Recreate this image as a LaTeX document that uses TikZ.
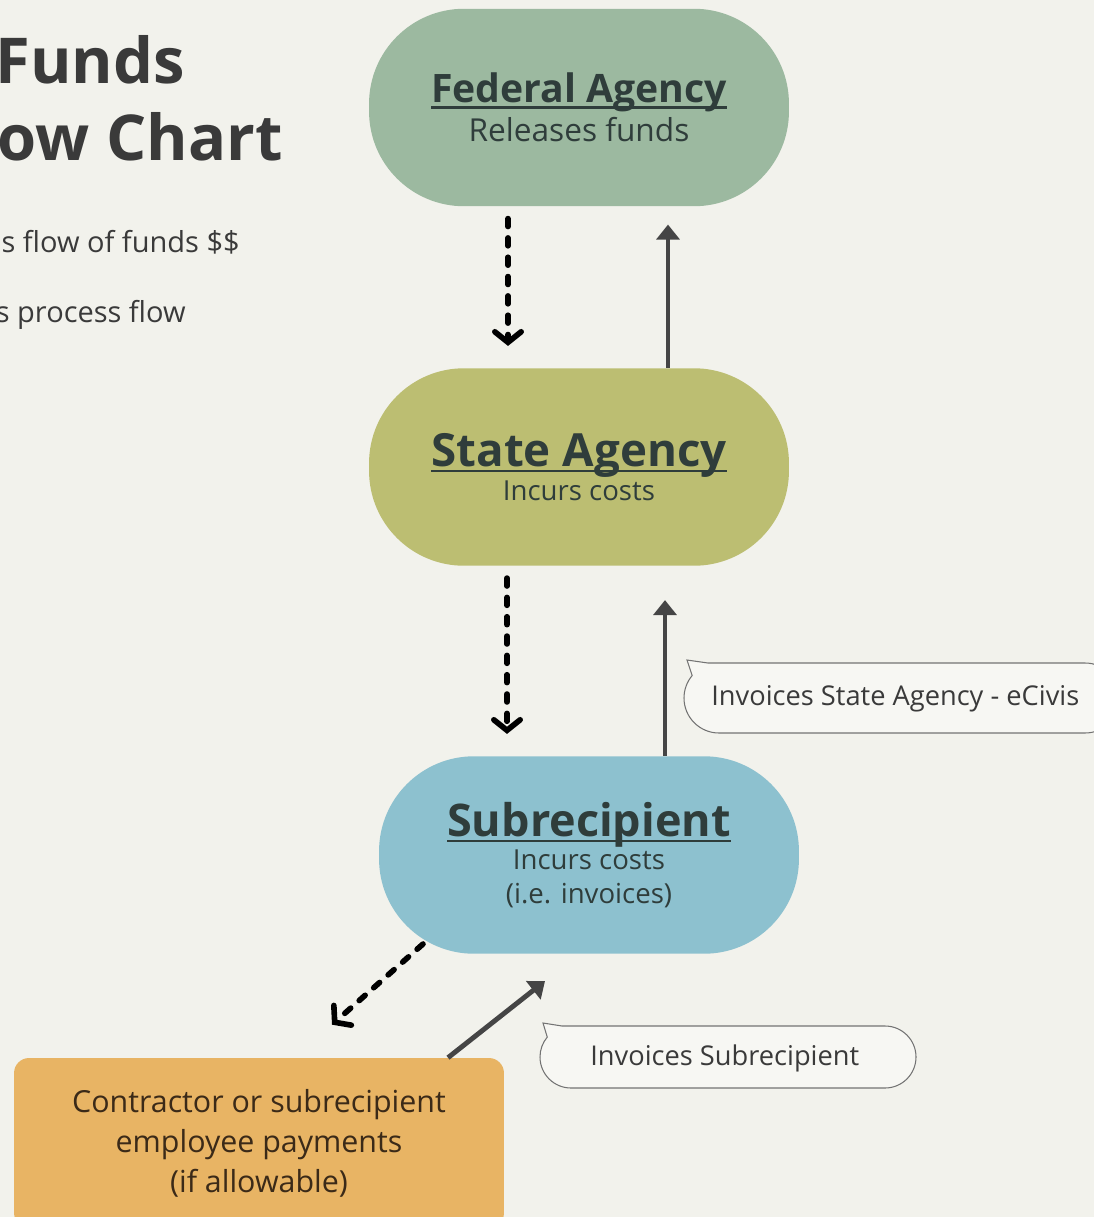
\documentclass[tikz,border=0pt]{standalone}
\usepackage{fontspec}
\setmainfont{Open Sans}
\usetikzlibrary{positioning, calc, arrows.meta}

\definecolor{paper}{HTML}{F2F2EC}
\definecolor{fedgreen}{HTML}{9CB9A0}
\definecolor{stateolive}{HTML}{BCBE72}
\definecolor{subblue}{HTML}{8DC1CF}
\definecolor{payorange}{HTML}{E8B464}
\definecolor{inkgrey}{HTML}{3A3A3A}
\definecolor{nodeink}{HTML}{2F3D3B}
\definecolor{payink}{HTML}{3B2A18}
\definecolor{arrowgrey}{HTML}{454545}
\definecolor{bubblefill}{HTML}{F7F7F3}

% underline that runs through the descenders
\newcommand{\agencyline}[1]{\setbox0\hbox{#1}\rlap{\rule[-3.2pt]{\wd0}{1.2pt}}\box0}

\begin{document}
\begin{tikzpicture}[x=0.02cm, y=0.02cm,
    agency/.style={rounded corners=1.9cm, minimum width=8.4cm, minimum height=3.95cm,
      align=center, text=nodeink, inner sep=0pt},
    fundflow/.style={black, line width=3.2pt, line cap=round, dash pattern=on 4.5pt off 6.5pt,
      -{Straight Barb[length=6pt, width=15pt, line cap=round]}},
    procflow/.style={arrowgrey, line width=2.8pt, -{Triangle[length=8.5pt, width=13pt]}},
    bubble/.style={draw=black!55, line width=0.6pt, fill=bubblefill},
    bubbletext/.style={font=\fontsize{15.5}{18}\selectfont, text=inkgrey, inner sep=0pt}]
  \fill[paper] (0,0) rectangle (1094,-1217);
  \useasboundingbox (0,0) rectangle (1094,-1217);

  % heading and legend, cut at the left edge
  \node[anchor=base east, inner sep=0pt, text=inkgrey, font=\fontsize{36}{40}\selectfont\bfseries] (ttlone) at (185,-83) {Funds};
  \node[anchor=base east, inner sep=0pt, text=inkgrey, font=\fontsize{36}{40}\selectfont\bfseries] (ttltwo) at (283,-160) {ow Chart};
  \node[anchor=base east, inner sep=0pt, text=inkgrey, font=\fontsize{16.5}{20}\selectfont] (lgfund) at (240,-252) {s flow of funds \$\$};
  \node[anchor=base east, inner sep=0pt, text=inkgrey, font=\fontsize{16.5}{20}\selectfont] (lgproc) at (186,-322) {s process flow};

  % agencies
  \node[agency, fill=fedgreen, font=\fontsize{18}{22}\selectfont] (fed) at (579,-107.5)
    {{\fontsize{22.3}{26}\selectfont\bfseries\agencyline{Federal Agency}}\\Releases funds};
  \node[agency, fill=stateolive, font=\fontsize{15.7}{19}\selectfont] (sta) at (579,-467)
    {{\fontsize{26}{30}\selectfont\bfseries\agencyline{State Agency}}\\Incurs costs};
  \node[agency, fill=subblue, font=\fontsize{15.7}{19}\selectfont] (sub) at (589,-855)
    {{\fontsize{25.6}{30}\selectfont\bfseries\agencyline{Subrecipient}}\\Incurs costs\\(i.e. invoices)};
  \node[rounded corners=0.3cm, fill=payorange, minimum width=9.8cm, minimum height=3.4cm,
    align=center, text=payink, font=\fontsize{17.3}{22.7}\selectfont, inner sep=0pt] (pay) at (259,-1143)
    {Contractor or subrecipient\\employee payments\\(if allowable)};

  % funds down, process up
  \draw[fundflow] ($(fed.south)+(-71,-12)$) -- ($(sta.north)+(-71,22)$);
  \draw[procflow] ($(sta.north)+(89,0)$) -- ($(fed.south)+(89,-18)$);
  \draw[fundflow] ($(sta.south)+(-72,-12)$) -- ($(sub.north)+(-82,22)$);
  \draw[procflow] ($(sub.north)+(76,0)$) -- ($(sta.south)+(86,-34)$);
  \draw[fundflow] ($(sub)+(-166,-89)$) -- ($(pay.north)+(73,33)$);
  \draw[procflow] ($(pay.north)+(189,0)$) -- ($(sub.south)+(-44,-27)$);

  % speech bubbles
  \draw[bubble] (708,-663) -- (1085,-663) arc[start angle=90, end angle=-90, radius=35]
    -- (719,-733) arc[start angle=270, end angle=140, radius=35] -- (687,-660) -- cycle;
  \node[bubbletext, anchor=base west] (billstate) at (711,-705) {Invoices State Agency - eCivis};
  \draw[bubble] (562,-1026) -- (885,-1026) arc[start angle=90, end angle=-90, radius=31]
    -- (571,-1088) arc[start angle=270, end angle=140, radius=31] -- (543,-1023) -- cycle;
  \node[bubbletext, anchor=base west] (billsub) at (590,-1065) {Invoices Subrecipient};
\end{tikzpicture}
\end{document}
